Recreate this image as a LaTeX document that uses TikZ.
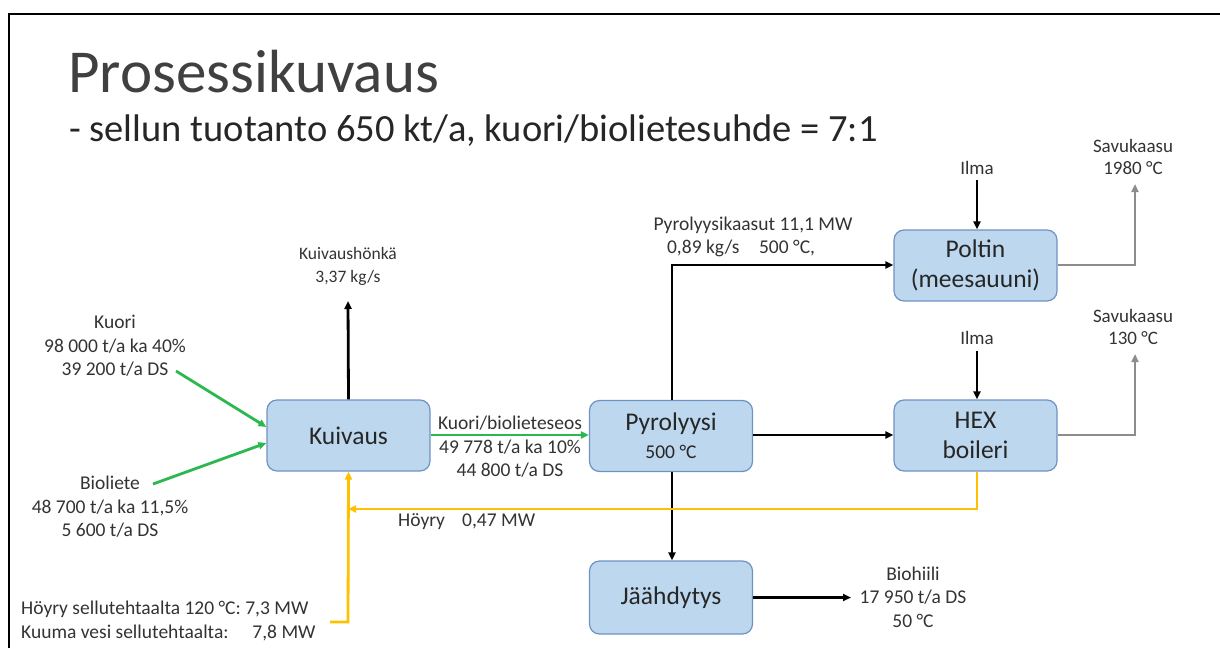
\documentclass[tikz,border=0pt]{standalone}
\usepackage{fontspec}
\setmainfont{Carlito}
\usetikzlibrary{arrows.meta}
\definecolor{boxfill}{HTML}{BDD7EE}
\definecolor{boxline}{HTML}{6F92C4}
\definecolor{flowgreen}{HTML}{2BB84E}
\definecolor{flowyellow}{HTML}{FFC000}
\definecolor{flowgray}{HTML}{8C8C8C}
\definecolor{txt}{HTML}{333333}
\tikzset{
  procbox/.style={draw=boxline, line width=1.2pt, fill=boxfill, rounded corners=10pt,
    minimum width=163pt, minimum height=71pt, inner sep=0pt, align=center,
    text=black!85, font=\fontsize{25.5}{30}\selectfont},
  lbl/.style={align=center, text=txt, font=\fontsize{19.5}{23.5}\selectfont, inner sep=0pt},
  slbl/.style={align=center, text=txt, font=\fontsize{19}{22}\selectfont, inner sep=0pt},
  tip/.style={-{Triangle[length=8pt,width=7pt]}},
  blk/.style={tip, draw=black, line width=2.8pt},
  grn/.style={tip, draw=flowgreen, line width=2.8pt},
  ylw/.style={tip, draw=flowyellow, line width=2.8pt},
  gry/.style={tip, draw=flowgray, line width=2.3pt},
}
\begin{document}
\begin{tikzpicture}[x=1pt,y=-1pt]
\useasboundingbox (0,0) rectangle (1220,648);
% slide frame
\draw[line width=2.2pt] (9,648) -- (9,14) -- (1220,14);
% title
\node[anchor=base west, inner sep=0pt, font=\fontsize{61}{63}\selectfont, text=black!75] (title) at (68,92) {Prosessikuvaus};
\node[anchor=base west, inner sep=0pt, font=\fontsize{38.5}{40}\selectfont, text=black!85] (subtitle) at (69,141) {- sellun tuotanto 650 kt/a, kuori/biolietesuhde = 7:1};

% boxes
\node[procbox] (kuiv) at (348.5,435.5) {Kuivaus};
\node[procbox] (pyro) at (671,436) {Pyrolyysi\\[-2pt]{\fontsize{19.5}{22}\selectfont 500 °C}};
\node[procbox] (polt) at (975.5,265.5) {Poltin\\(meesauuni)};
\node[procbox] (hex) at (975.5,435.5) {HEX\\boileri};
\node[procbox, minimum height=73pt] (jaah) at (671,597.5) {Jäähdytys};

% labels
\node[lbl] (kuori) at (115,346) {Kuori\\98 000 t/a ka 40\%\\39 200 t/a DS};
\node[lbl] (bioliete) at (110,507) {Bioliete\\48 700 t/a ka 11,5\%\\5 600 t/a DS};
\node[slbl, font=\fontsize{17.5}{23}\selectfont] (honka) at (348,266) {Kuivaushönkä\\3,37 kg/s};
\node[lbl] (seos) at (510,447) {Kuori/biolieteseos\\49 778 t/a ka 10\%\\44 800 t/a DS};
\node[lbl] (kaasut) at (753,225) {Pyrolyysikaasut 11,1 MW};
\node[lbl] (kaasut2) at (741,248) {0,89 kg/s\quad 500 °C,};
\node[slbl] (ilma1) at (977,168) {Ilma};
\node[slbl] (ilma2) at (977,338) {Ilma};
\node[slbl] (savu1) at (1133,157) {Savukaasu\\1980 °C};
\node[slbl] (savu2) at (1133,326.5) {Savukaasu\\130 °C};
\node[lbl] (biohiili) at (913,597) {Biohiili\\17 950 t/a DS\\50 °C};
\node[lbl, anchor=west] (hoyry) at (398,522) {Höyry\hspace{0.65em} 0,47 MW};
\node[lbl, anchor=west, align=left] (sellu) at (21,621) {Höyry sellutehtaalta 120 °C: 7,3 MW\\Kuuma vesi sellutehtaalta:\quad\ 7,8 MW};

% helper coordinates
\coordinate (kuorEnd) at (176,371);
\coordinate (bioEnd) at (153,484);
\coordinate (honkaTip) at (348,301);
\coordinate (kaasuCorner) at (672,265);
\coordinate (ilma1s) at (977,180);
\coordinate (ilma2s) at (977,351);
\coordinate (savu1c) at (1135,265);
\coordinate (savu1t) at (1135,184);
\coordinate (savu2c) at (1135,435);
\coordinate (savu2t) at (1135,354);
\coordinate (hexDown) at (977,509);
\coordinate (hoyryEnd) at (348,509);
\coordinate (selluStart) at (330,622);
\coordinate (selluCorner) at (348,622);
\coordinate (bioTip) at (851,597.5);

% connectors
\draw[grn] (kuorEnd) -- (kuiv.west |- 0,427);
\draw[grn] (bioEnd) -- (kuiv.west |- 0,443);
\draw[blk] (kuiv.north) -- (honkaTip);
\draw[grn] (kuiv.east |- 0,435) -- (pyro.west |- 0,435);
\draw[blk] (pyro.north -| kaasuCorner) -- (kaasuCorner) -- (polt.west |- kaasuCorner);
\draw[blk] (pyro.east |- 0,435) -- (hex.west |- 0,435);
\draw[blk] (pyro.south -| 672,0) -- (jaah.north -| 672,0);
\draw[blk] (jaah.east |- bioTip) -- (bioTip);
\draw[blk] (ilma1s) -- (polt.north -| ilma1s);
\draw[blk] (ilma2s) -- (hex.north -| ilma2s);
\draw[gry] (polt.east |- savu1c) -- (savu1c) -- (savu1t);
\draw[gry] (hex.east |- savu2c) -- (savu2c) -- (savu2t);
\draw[ylw] (hex.south -| hexDown) -- (hexDown) -- (hoyryEnd);
\draw[ylw] (selluStart) -- (selluCorner) -- (kuiv.south);
\end{tikzpicture}
\end{document}
